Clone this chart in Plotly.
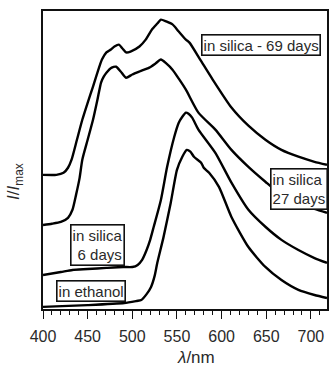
import plotly.graph_objects as go

# wavelengths (nm) and normalised intensities (offset stacked)
wl_69 = [400, 415, 423, 428, 432, 438, 444, 450, 456, 462, 466, 471, 476, 480, 485, 489, 493, 498,
         508, 515, 522, 528, 532, 538, 545, 552, 560, 564, 576, 590, 611, 630, 649, 667, 686, 704, 718]
int_69 = [0.450, 0.450, 0.457, 0.474, 0.501, 0.568, 0.635, 0.692, 0.746, 0.803, 0.837, 0.861, 0.871,
          0.881, 0.887, 0.874, 0.861, 0.864, 0.881, 0.904, 0.938, 0.958, 0.971, 0.965, 0.955, 0.931,
          0.904, 0.894, 0.837, 0.770, 0.676, 0.615, 0.568, 0.534, 0.511, 0.494, 0.484]

wl_27 = [400, 410, 420, 428, 433, 437, 441, 444, 450, 456, 461, 465, 468, 471, 477, 482, 487, 493,
         500, 508, 519, 526, 532, 538, 545, 552, 560, 574, 593, 611, 630, 649, 667, 686, 704, 718]
int_27 = [0.282, 0.286, 0.292, 0.306, 0.333, 0.383, 0.440, 0.501, 0.568, 0.635, 0.703, 0.760, 0.780,
          0.793, 0.810, 0.813, 0.797, 0.776, 0.787, 0.797, 0.810, 0.824, 0.837, 0.824, 0.803, 0.773,
          0.736, 0.659, 0.602, 0.534, 0.477, 0.427, 0.383, 0.356, 0.336, 0.323]

wl_6 = [400, 420, 433, 450, 471, 490, 500, 506, 511, 516, 520, 524, 532, 539, 547, 552, 556, 560,
        563, 567, 574, 593, 611, 630, 649, 667, 686, 704, 718]
int_6 = [0.114, 0.124, 0.131, 0.134, 0.138, 0.141, 0.141, 0.148, 0.165, 0.198, 0.232, 0.276, 0.366,
         0.477, 0.578, 0.625, 0.645, 0.659, 0.655, 0.642, 0.602, 0.524, 0.424, 0.333, 0.276, 0.232,
         0.198, 0.171, 0.155]

wl_eth = [400, 450, 491, 505, 510, 516, 521, 525, 528, 535, 543, 550, 556, 561, 565, 569, 577, 580,
          586, 597, 611, 630, 649, 667, 686, 704, 718]
int_eth = [0.007, 0.013, 0.020, 0.027, 0.030, 0.050, 0.074, 0.111, 0.155, 0.242, 0.356, 0.467, 0.511,
           0.534, 0.528, 0.511, 0.491, 0.474, 0.457, 0.410, 0.309, 0.208, 0.141, 0.097, 0.064, 0.047,
           0.037]

labels = ["in silica - 69 days", "in silica<br>27 days", "in silica<br>6 days", "in ethanol"]

FONT = "Liberation Sans, Arial, Helvetica, sans-serif"

fig = go.Figure()
for wl, it in [(wl_69, int_69), (wl_27, int_27), (wl_6, int_6), (wl_eth, int_eth)]:
    fig.add_trace(go.Scatter(x=wl, y=it, mode="lines",
                             line=dict(color="black", width=2.4, shape="spline", smoothing=0.6),
                             showlegend=False, hoverinfo="skip"))

ann_pos = [(0.766, 0.886, "center"), (0.902, 0.402, "left"), (0.192, 0.215, "right"), (0.168, 0.059, "center")]
for txt, (ax, ay, al) in zip(labels, ann_pos):
    fig.add_annotation(text=txt, x=ax, y=ay, xref="paper", yref="paper", showarrow=False,
                       xanchor="center", yanchor="middle", align=al,
                       font=dict(family=FONT, size=15, color="#2a2a2a"),
                       bgcolor="white", bordercolor="#111", borderwidth=1.6, borderpad=1)

# axis titles
fig.add_annotation(text="<i>λ</i>/nm", x=0.538, y=-0.163, xref="paper", yref="paper",
                   showarrow=False, xanchor="center", yanchor="middle",
                   font=dict(family=FONT, size=17, color="#2a2a2a"))
fig.add_annotation(text="<i>I</i>/<i>I</i><sub>max</sub>", x=-0.098, y=0.427, xref="paper", yref="paper",
                   showarrow=False, xanchor="center", yanchor="middle", textangle=-90,
                   font=dict(family=FONT, size=17, color="#2a2a2a"))

fig.update_layout(
    width=331, height=369,
    margin=dict(l=43, r=2, t=11, b=60),
    paper_bgcolor="white", plot_bgcolor="white",
    font=dict(family=FONT, color="#2a2a2a"),
    xaxis=dict(range=[400, 718], showgrid=False, zeroline=False,
               showline=True, linecolor="#111", linewidth=2, mirror=True,
               ticks="outside", ticklen=8, tickwidth=1.2, tickcolor="#111",
               ticklabelstandoff=4,
               tick0=400, dtick=50, tickfont=dict(size=16, family=FONT, color="#2a2a2a"),
               minor=dict(dtick=10, ticklen=4, tickwidth=1, tickcolor="#111", ticks="outside")),
    yaxis=dict(range=[0, 1], showgrid=False, zeroline=False, showticklabels=False,
               showline=True, linecolor="#111", linewidth=2, mirror=True, ticks=""),
)

fig.write_html("out.html")
